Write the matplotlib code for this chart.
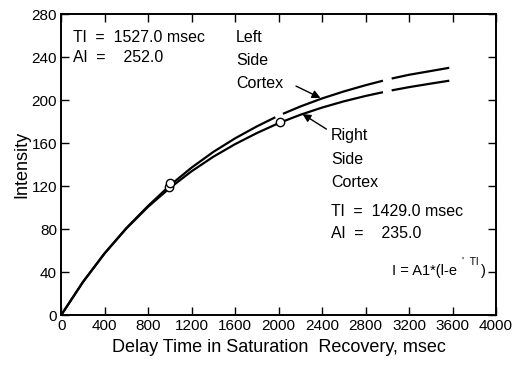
import numpy as np
import matplotlib.pyplot as plt

plt.rcParams['font.family'] = ['Liberation Sans', 'DejaVu Sans']

# values (nan = break in the drawn line)
t_left = [0, 200, 400, 600, 800, 1000, 1200, 1400, 1600, 1800, 1970, np.nan,
          2040, 2200, 2400, 2600, 2800, 2960, np.nan, 3040, 3200, 3400, 3570]
i_left = [0, 30.8, 57.6, 81.0, 101.6, 120.6, 137.2, 151.8, 164.4, 175.5, 184.0, np.nan,
          187.2, 194.0, 201.5, 208.0, 213.8, 218.0, np.nan, 220.0, 223.5, 227.0, 230.0]

t_right = [0, 200, 400, 600, 800, 1000, 1200, 1400, 1600, 1800, 2000, 2200, 2400,
           2600, 2800, 2960, np.nan, 3040, 3200, 3400, 3570]
i_right = [0, 30.7, 57.4, 80.6, 100.8, 118.3, 133.8, 147.3, 159.0, 169.3, 178.5, 186.3,
           193.0, 198.8, 203.8, 207.3, np.nan, 209.0, 212.0, 215.3, 218.0]

# measured points (open circles)
t_pts = [990, 1000, 2010]
i_pts = [119.5, 123.0, 180.0]

x_ticks = list(range(0, 4001, 400))
y_ticks = list(range(0, 281, 40))

fig = plt.figure(figsize=(5.14, 3.69), dpi=100)
ax = fig.add_axes([0.119, 0.146, 0.846, 0.816])

ax.plot(t_left, i_left, color='black', lw=1.6, solid_capstyle='butt')
ax.plot(t_right, i_right, color='black', lw=1.6, solid_capstyle='butt')
ax.plot(t_pts, i_pts, 'o', ms=6, mfc='white', mec='black', mew=1.0, zorder=3)

ax.set_xlim(0, 4000)
ax.set_ylim(0, 280)
ax.set_xticks(x_ticks)
ax.set_yticks(y_ticks)
ax.tick_params(direction='in', length=6, width=1.0, top=True, right=True,
               labelsize=11, pad=3)
for s in ax.spines.values():
    s.set_linewidth(1.4)

ax.set_xlabel('Delay Time in Saturation  Recovery, msec', fontsize=13, labelpad=4)
ax.set_ylabel('Intensity', fontsize=13, labelpad=1)

fs = 11.5
ax.text(110, 258, 'Tl  =  1527.0 msec', fontsize=fs, va='center')
ax.text(110, 240, 'Al  =    252.0', fontsize=fs, va='center')
ax.text(1610, 258, 'Left', fontsize=fs, va='center')
ax.text(1610, 237, 'Side', fontsize=fs, va='center')
ax.text(1610, 215, 'Cortex', fontsize=fs, va='center')

ax.text(2480, 167, 'Right', fontsize=fs, va='center')
ax.text(2480, 145, 'Side', fontsize=fs, va='center')
ax.text(2480, 123, 'Cortex', fontsize=fs, va='center')
ax.text(2480, 96, 'Tl  =  1429.0 msec', fontsize=fs, va='center')
ax.text(2480, 76, 'Al  =    235.0', fontsize=fs, va='center')

# formula: main part, raised exponent, closing bracket
ax.text(3040, 41, 'I = A1*(l-e', fontsize=10.5, va='center')
ax.text(3690, 45, "'  Tl", fontsize=7.5, va='bottom')
ax.text(3865, 41, ')', fontsize=10.5, va='center')

ax.annotate('', xy=(2385, 202), xytext=(2160, 213),
            arrowprops=dict(arrowstyle='-|>', color='black', lw=1.0,
                            mutation_scale=12, shrinkA=0, shrinkB=0))
ax.annotate('', xy=(2220, 187), xytext=(2440, 173),
            arrowprops=dict(arrowstyle='-|>', color='black', lw=1.0,
                            mutation_scale=12, shrinkA=0, shrinkB=0))

fig.savefig('out.png', dpi=100)
